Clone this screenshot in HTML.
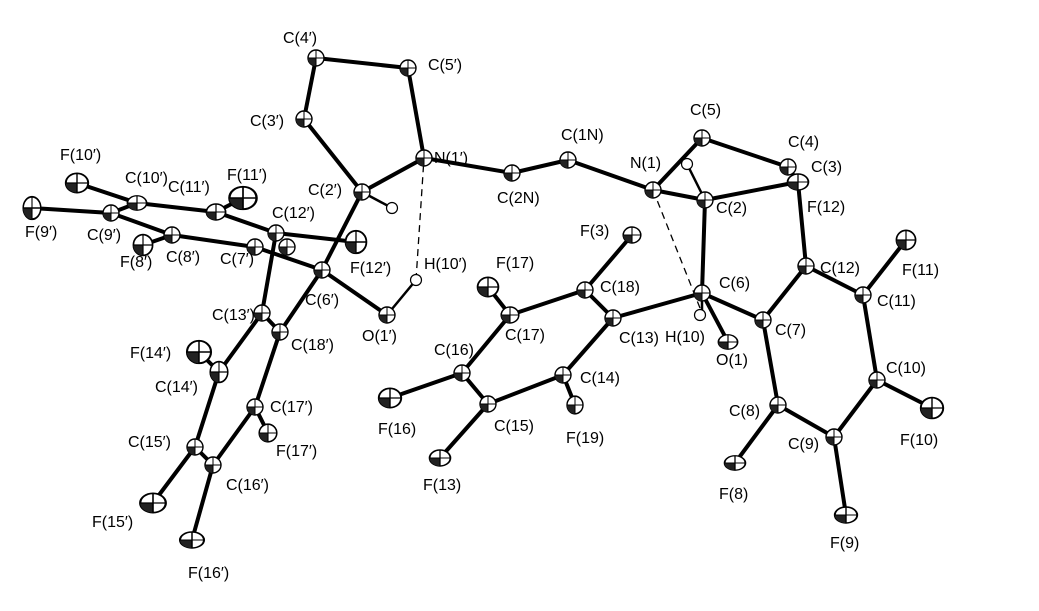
<!DOCTYPE html>
<html><head><meta charset="utf-8"><style>
html,body{margin:0;padding:0;background:#fff;}
svg{display:block;}
text{font-family:"Liberation Sans",Arial,sans-serif;font-size:16px;fill:#000;}
</style></head><body>
<svg width="1039" height="611" viewBox="0 0 1039 611" xmlns="http://www.w3.org/2000/svg">
<defs>
<g id="at"><circle r="8" fill="#fff" stroke="#000" stroke-width="1.4"/><path d="M0,0 L0,8 A8,8 0 0 1 -8,0 Z" fill="#222"/><path d="M-8,0H8M0,-8V8" stroke="#000" stroke-width="1"/></g>
<g id="h"><circle r="5.5" fill="#fff" stroke="#000" stroke-width="1.2"/></g>
</defs>
<g stroke="#000" stroke-width="4" stroke-linecap="round" fill="none">
<path d="M316,58L408,68M316,58L304,119M408,68L424,158M304,119L362,192M362,192L424,158M362,192L322,270M322,270L280,332M322,270L387,315M322,270L255,247M255,247L172,235M172,235L111,213M172,235L143,245M111,213L32,208M111,213L137,203M137,203L77,183M137,203L216,212M216,212L243,198M216,212L276,233M276,233L356,242M276,233L262,313M262,313L280,332M262,313L219,372M219,372L199,352M219,372L195,447M195,447L213,465M195,447L153,503M213,465L192,540M213,465L255,407M255,407L280,332M255,407L268,433"/>
<path d="M424,158L512,173M512,173L568,160M568,160L653,190M653,190L702,138M653,190L705,200M702,138L788,167M788,167L798,182M705,200L798,182M798,182L806,266M705,200L702,293M702,293L728,342M702,293L763,320M702,293L613,318M763,320L806,266M763,320L778,405M806,266L863,295M863,295L906,240M863,295L877,380M877,380L932,408M877,380L834,437M834,437L846,515M834,437L778,405M778,405L735,463"/>
<path d="M613,318L585,290M585,290L632,235M585,290L510,315M510,315L488,287M510,315L462,373M462,373L390,398M462,373L488,404M488,404L440,458M488,404L563,375M563,375L575,405M563,375L613,318"/>
</g>
<g stroke="#000" stroke-width="2.5" fill="none">
<path d="M362,192L392,208M387,315L416,280M705,200L687,164M702,293L702,315"/>
</g>
<g stroke="#000" stroke-width="1.3" stroke-dasharray="7,5" fill="none">
<path d="M416,280L424,158M653,190L700,308"/>
</g>
<g>
<use href="#at" x="316" y="58"/><use href="#at" x="408" y="68"/><use href="#at" x="304" y="119"/><use href="#at" x="424" y="158"/><use href="#at" x="362" y="192"/>
<use href="#at" x="322" y="270"/><use href="#at" x="280" y="332"/><use href="#at" x="387" y="315"/><use href="#at" x="255" y="247"/><use href="#at" x="172" y="235"/>
<use href="#at" x="111" y="213"/><use href="#at" transform="translate(137,203) scale(1.2,0.9)"/><use href="#at" transform="translate(216,212) scale(1.2,1)"/><use href="#at" x="287" y="247"/><use href="#at" x="276" y="233"/>
<use href="#at" x="262" y="313"/><use href="#at" transform="translate(219,372) scale(1.1,1.3)"/><use href="#at" x="195" y="447"/><use href="#at" x="213" y="465"/><use href="#at" x="255" y="407"/>
<use href="#at" transform="translate(32,208) scale(1.1,1.4)"/><use href="#at" transform="translate(77,183) scale(1.4,1.2)"/><use href="#at" transform="translate(243,198) scale(1.7,1.4)"/><use href="#at" transform="translate(143,245) scale(1.2,1.3)"/><use href="#at" transform="translate(356,242) scale(1.3,1.4)"/>
<use href="#at" transform="translate(199,352) scale(1.5,1.4)"/><use href="#at" transform="translate(153,503) scale(1.6,1.2)"/><use href="#at" transform="translate(192,540) scale(1.5,1)"/><use href="#at" transform="translate(268,433) scale(1.1,1.1)"/>
<use href="#at" x="512" y="173"/><use href="#at" x="568" y="160"/><use href="#at" x="653" y="190"/><use href="#at" x="702" y="138"/><use href="#at" x="788" y="167"/><use href="#at" transform="translate(798,182) scale(1.3,1)"/>
<use href="#at" x="705" y="200"/><use href="#at" x="702" y="293"/><use href="#at" transform="translate(728,342) scale(1.2,0.9)"/><use href="#at" x="763" y="320"/><use href="#at" x="806" y="266"/><use href="#at" x="863" y="295"/>
<use href="#at" transform="translate(906,240) scale(1.2,1.2)"/><use href="#at" x="877" y="380"/><use href="#at" transform="translate(932,408) scale(1.4,1.3)"/><use href="#at" x="834" y="437"/><use href="#at" transform="translate(846,515) scale(1.4,1)"/>
<use href="#at" x="778" y="405"/><use href="#at" transform="translate(735,463) scale(1.3,0.9)"/>
<use href="#at" x="613" y="318"/><use href="#at" x="585" y="290"/><use href="#at" transform="translate(632,235) scale(1.1,1)"/><use href="#at" transform="translate(510,315) scale(1.1,1)"/><use href="#at" transform="translate(488,287) scale(1.3,1.2)"/>
<use href="#at" x="462" y="373"/><use href="#at" transform="translate(390,398) scale(1.4,1.2)"/><use href="#at" x="488" y="404"/><use href="#at" transform="translate(440,458) scale(1.3,1)"/><use href="#at" x="563" y="375"/><use href="#at" transform="translate(575,405) scale(1,1.1)"/>
<use href="#h" x="392" y="208"/><use href="#h" x="416" y="280"/><use href="#h" x="687" y="164"/><use href="#h" x="700" y="315"/>
</g>
<g>
<text x="283" y="43">C(4′)</text><text x="428" y="70">C(5′)</text><text x="250" y="126">C(3′)</text><text x="434" y="163">N(1′)</text><text x="308" y="195">C(2′)</text>
<text x="561" y="140">C(1N)</text><text x="497" y="203">C(2N)</text><text x="630" y="168">N(1)</text><text x="690" y="115">C(5)</text><text x="788" y="147">C(4)</text><text x="811" y="172">C(3)</text>
<text x="716" y="213">C(2)</text><text x="807" y="212">F(12)</text><text x="60" y="160">F(10′)</text><text x="125" y="183">C(10′)</text><text x="168" y="192">C(11′)</text><text x="227" y="180">F(11′)</text>
<text x="272" y="218">C(12′)</text><text x="25" y="237">F(9′)</text><text x="87" y="240">C(9′)</text><text x="166" y="262">C(8′)</text><text x="120" y="267">F(8′)</text><text x="220" y="264">C(7′)</text>
<text x="350" y="273">F(12′)</text><text x="424" y="269">H(10′)</text><text x="305" y="305">C(6′)</text><text x="362" y="341">O(1′)</text><text x="496" y="268">F(17)</text><text x="580" y="236">F(3)</text>
<text x="600" y="292">C(18)</text><text x="719" y="288">C(6)</text><text x="820" y="273">C(12)</text><text x="902" y="275">F(11)</text><text x="505" y="340">C(17)</text><text x="619" y="343">C(13)</text>
<text x="665" y="342">H(10)</text><text x="716" y="365">O(1)</text><text x="775" y="335">C(7)</text><text x="877" y="306">C(11)</text><text x="212" y="320">C(13′)</text><text x="291" y="350">C(18′)</text>
<text x="130" y="358">F(14′)</text><text x="155" y="392">C(14′)</text><text x="434" y="355">C(16)</text><text x="580" y="383">C(14)</text><text x="886" y="373">C(10)</text><text x="900" y="445">F(10)</text>
<text x="270" y="412">C(17′)</text><text x="276" y="456">F(17′)</text><text x="378" y="434">F(16)</text><text x="494" y="431">C(15)</text><text x="566" y="443">F(19)</text><text x="729" y="416">C(8)</text>
<text x="788" y="449">C(9)</text><text x="128" y="447">C(15′)</text><text x="226" y="490">C(16′)</text><text x="719" y="499">F(8)</text><text x="423" y="490">F(13)</text><text x="830" y="548">F(9)</text>
<text x="92" y="527">F(15′)</text><text x="188" y="578">F(16′)</text>
</g>
</svg>
</body></html>
